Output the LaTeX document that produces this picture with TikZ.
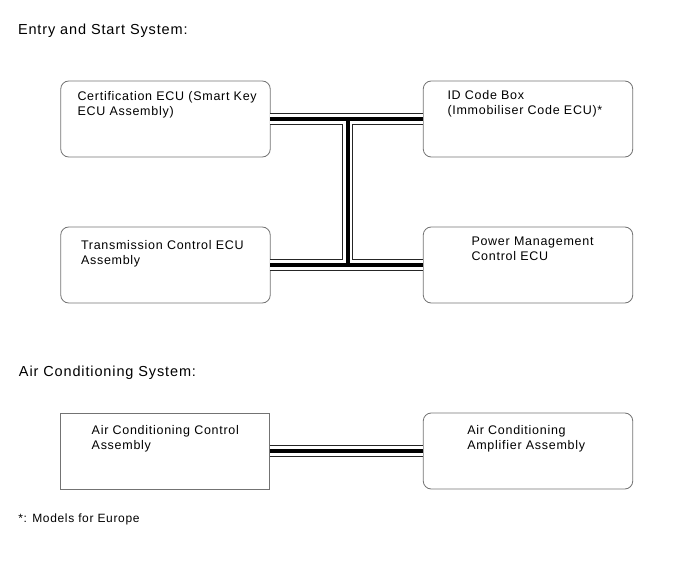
\documentclass[tikz,border=0pt]{standalone}
\usepackage{fontspec}
\setmainfont{Liberation Sans}
\newfontfamily\diagfont[LetterSpace=5.8]{Liberation Sans}
\newfontfamily\headfont[LetterSpace=6]{Liberation Sans}
\newfontfamily\notefont[LetterSpace=5.5]{Liberation Sans}
\usepackage{tikz}
\usetikzlibrary{positioning,calc}

\begin{document}
\begin{tikzpicture}[
  x=1pt, y=-1pt,
  every node/.style={inner sep=0pt, outer sep=0pt},
  ecu/.style={draw=black!55, line width=0.8pt, rounded corners=8pt,
    minimum width=209.5pt, minimum height=76pt},
  ecusq/.style={ecu, rounded corners=0pt},
  txt/.style={align=left, anchor=base west, yshift=-14.6pt,
    font=\diagfont\fontsize{12.5}{14.6}\selectfont},
  head/.style={anchor=base west, font=\headfont\fontsize{14.5}{16}\selectfont}
]
\useasboundingbox (0,0) rectangle (691,564);

% headings
\node[head] (hes) at (18,35)    {Entry and Start System:};
\node[head] (hac) at (19,376.5) {Air Conditioning System:};
\node[anchor=base west, font=\notefont\fontsize{12}{14}\selectfont] (note) at (18.3,522) {*: Models for Europe};

% entry and start ECUs
\node[ecu] (cert)  at (165.5,119) {};
\node[ecu] (idbox) at (528,119)   {};
\node[ecu] (tcm)   at (165.5,265) {};
\node[ecu] (pm)    at (528,265)   {};
\node[txt] (cert-t)  at (77.5,101)  {Certification ECU (Smart Key\\ECU Assembly)};
\node[txt] (idbox-t) at (447.5,100) {ID Code Box\\(Immobiliser Code ECU)*};
\node[txt] (tcm-t)   at (81,249.7)  {Transmission Control ECU\\Assembly};
\node[txt] (pm-t)    at (471.5,245.7) {Power Management\\Control ECU};

% air conditioning ECUs
\node[ecusq] (acc) at (165,451) {};
\node[ecu]   (aca) at (528,451) {};
\node[txt] (acc-t) at (91.7,434.7)  {Air Conditioning Control\\Assembly};
\node[txt] (aca-t) at (467.3,434.7) {Air Conditioning\\Amplifier Assembly};

% bus lines
\coordinate (jtop) at (347.5,119);
\coordinate (jbot) at (jtop |- tcm.east);
\foreach \w/\c in {11.5/black!85, 9.3/white, 4/black}
  \draw[line width=\w pt, draw=\c]
    (cert.east) -- (idbox.west)
    (tcm.east) -- (pm.west)
    (jtop) -- (jbot)
    (acc.east) -- (aca.west);
\end{tikzpicture}
\end{document}
